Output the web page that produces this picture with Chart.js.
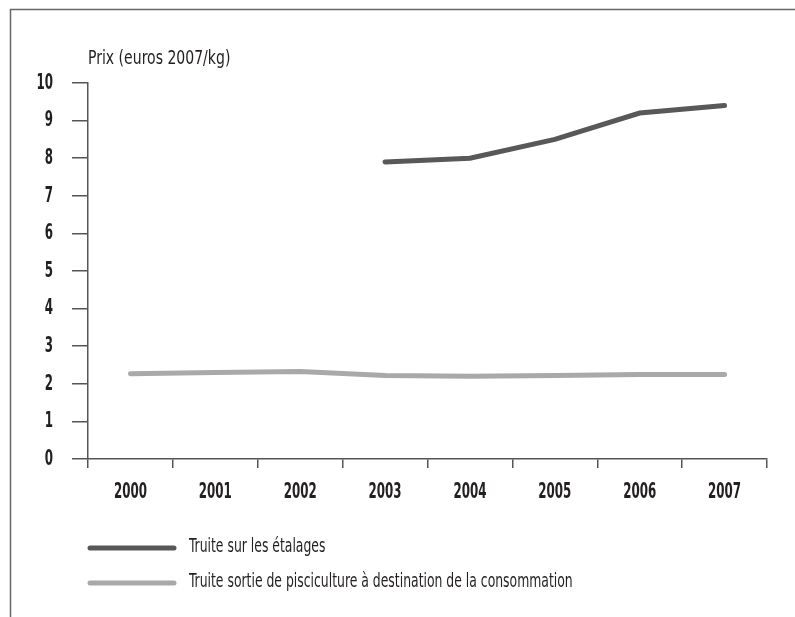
<!DOCTYPE html>
<html>
<head>
<meta charset="utf-8">
<script src="https://cdn.jsdelivr.net/npm/chart.js@4/dist/chart.umd.min.js"></script>
<style>
  html, body { margin: 0; padding: 0; background: #fff; }
  #wrap { position: relative; width: 795px; height: 617px; }
</style>
</head>
<body>
<div id="wrap"><canvas id="chart" width="795" height="617"></canvas></div>
<script>
const years = ["2000", "2001", "2002", "2003", "2004", "2005", "2006", "2007"];
const etalages = [null, null, null, 7.9, 8.0, 8.5, 9.2, 9.4];
const pisciculture = [2.27, 2.3, 2.33, 2.22, 2.2, 2.22, 2.25, 2.25];
const yTicks = [0, 1, 2, 3, 4, 5, 6, 7, 8, 9, 10];
const yTitle = "Prix (euros 2007/kg)";

const FONT = "'DejaVu Sans Condensed', 'Liberation Sans', sans-serif";
const AXIS = "#555555";
const INK = "#231f20";

// condensed text: the original uses a very narrow face, so squeeze horizontally
function narrowText(ctx, text, x, y, font, sx, align) {
    ctx.save();
    ctx.font = font;
    ctx.textBaseline = "middle";
    ctx.textAlign = align;
    ctx.translate(x, y);
    ctx.scale(sx, 1);
    ctx.fillText(text, 0, 0);
    ctx.restore();
}

const decorations = {
    id: "decorations",
    afterDraw: function(chart) {
        const ctx = chart.ctx;
        const xs = chart.scales.x;
        const ys = chart.scales.y;
        ctx.save();
        ctx.strokeStyle = "#666666";
        ctx.lineWidth = 1.5;
        ctx.beginPath();
        ctx.moveTo(10.5, 617);
        ctx.lineTo(10.5, 9.5);
        ctx.lineTo(795, 9.5);
        ctx.stroke();

        ctx.fillStyle = INK;
        const tickFont = "bold 22px " + FONT;
        years.forEach(function(y, i) {
            narrowText(ctx, y, xs.getPixelForValue(i), 492, tickFont, 0.6, "center");
        });
        yTicks.forEach(function(v) {
            narrowText(ctx, String(v), 53, ys.getPixelForValue(v), tickFont, 0.6, "right");
        });

        narrowText(ctx, yTitle, 88, 59, "20px " + FONT, 0.78, "left");

        const rows = [548, 583];
        chart.data.datasets.forEach(function(ds, i) {
            ctx.strokeStyle = ds.borderColor;
            ctx.lineWidth = 5;
            ctx.lineCap = "round";
            ctx.beginPath();
            ctx.moveTo(90, rows[i]);
            ctx.lineTo(174, rows[i]);
            ctx.stroke();
            ctx.fillStyle = INK;
            narrowText(ctx, ds.label, 189, rows[i] - 1, "20px " + FONT, 0.69, "left");
        });
        ctx.restore();
    }
};

new Chart(document.getElementById("chart"), {
    type: "line",
    data: {
        labels: years,
        datasets: [
            {
                label: "Truite sur les étalages",
                data: etalages,
                borderColor: "#58585a",
                borderWidth: 5,
                borderCapStyle: "round",
                pointRadius: 0,
                tension: 0
            },
            {
                label: "Truite sortie de pisciculture à destination de la consommation",
                data: pisciculture,
                borderColor: "#a9a9ac",
                borderWidth: 5,
                borderCapStyle: "round",
                pointRadius: 0,
                tension: 0
            }
        ]
    },
    options: {
        responsive: false,
        animation: false,
        layout: { padding: { left: 0, top: 83, right: 28, bottom: 0 } },
        plugins: {
            legend: { display: false },
            tooltip: { enabled: false }
        },
        scales: {
            x: {
                type: "category",
                offset: true,
                afterFit: function(scale) { scale.height = 158; },
                grid: {
                    offset: true,
                    drawOnChartArea: false,
                    drawTicks: true,
                    tickLength: 9,
                    color: AXIS,
                    lineWidth: 1.5
                },
                border: { color: AXIS, width: 1.5 },
                ticks: { display: false }
            },
            y: {
                min: 0,
                max: 10,
                afterFit: function(scale) { scale.width = 88; },
                afterBuildTicks: function(scale) {
                    scale.ticks = yTicks.map(function(v) { return { value: v }; });
                },
                grid: {
                    drawOnChartArea: false,
                    drawTicks: true,
                    tickLength: 16,
                    color: AXIS,
                    lineWidth: 1.5
                },
                border: { color: AXIS, width: 1.5 },
                ticks: { display: false }
            }
        }
    },
    plugins: [decorations]
});
</script>
</body>
</html>
